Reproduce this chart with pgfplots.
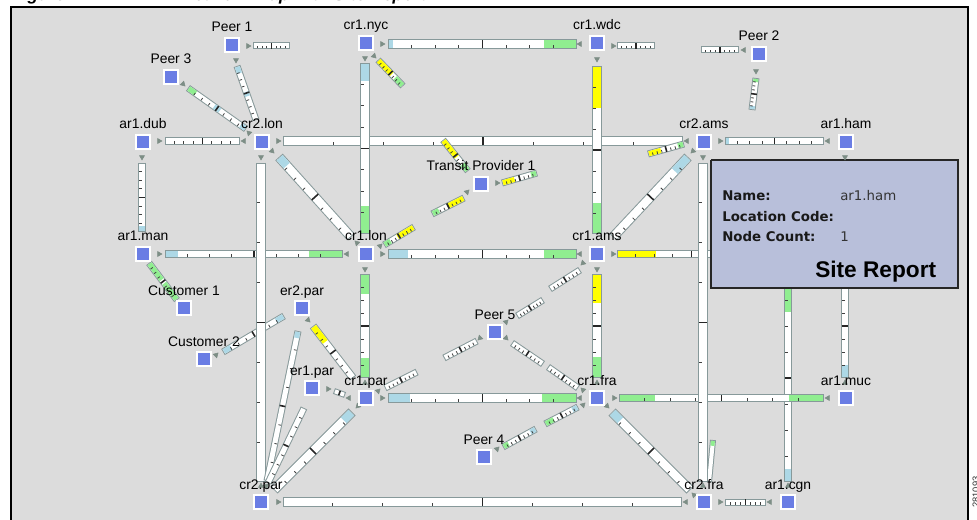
\documentclass[border=0pt]{standalone}
\usepackage{fontspec}
\setmainfont{Liberation Sans}
\newfontfamily\vfont{DejaVu Sans}
\usepackage{pgfplots}
\pgfplotsset{compat=1.18}
\usepackage{pgfplotstable}

\definecolor{bg}{HTML}{DCDCDC}
\definecolor{edgec}{HTML}{87999A}
\definecolor{lblue}{HTML}{ADD8E6}
\definecolor{lgreen}{HTML}{90EE90}
\definecolor{ylw}{HTML}{FFFF00}
\definecolor{nodec}{HTML}{6A7DE4}
\definecolor{boxc}{HTML}{B8BFDA}
\definecolor{arrc}{HTML}{7D8E86}
\definecolor{tickc}{HTML}{404040}

% bar from (x1,y1) to (x2,y2), width in px, tick side +1/-1
\newcommand\link[6]{%
  \pgfmathsetmacro\Lax{#1}\pgfmathsetmacro\Lay{#2}%
  \pgfmathsetmacro\Lln{veclen(#3-#1,#4-#2)}%
  \pgfmathsetmacro\Lux{(#3-#1)/\Lln}\pgfmathsetmacro\Luy{(#4-#2)/\Lln}%
  \pgfmathsetmacro\Lnx{-(#6)*\Luy}\pgfmathsetmacro\Lny{(#6)*\Lux}%
  \pgfmathsetmacro\Lhw{#5/2}%
  \pgfmathsetmacro\Lsx{#1+\Lux}\pgfmathsetmacro\Lsy{#2+\Luy}%
  \pgfmathsetmacro\Lex{#3-\Lux}\pgfmathsetmacro\Ley{#4-\Luy}%
  \addplot[draw=edgec, line width=#5*0.75pt] coordinates {(#1,#2) (#3,#4)};
  \addplot[draw=white, line width=(#5-2)*0.75pt] coordinates {(\Lsx,\Lsy) (\Lex,\Ley)};
}
% coloured part of the last bar, fractions along it
\newcommand\segf[4]{%
  \pgfmathsetmacro\Lpa{\Lsx+#1*(\Lln-2)*\Lux}\pgfmathsetmacro\Lpb{\Lsy+#1*(\Lln-2)*\Luy}%
  \pgfmathsetmacro\Lpc{\Lsx+#2*(\Lln-2)*\Lux}\pgfmathsetmacro\Lpd{\Lsy+#2*(\Lln-2)*\Luy}%
  \addplot[draw=#3, line width=(#4-2)*0.75pt] coordinates {(\Lpa,\Lpb) (\Lpc,\Lpd)};
}
\newcommand\tk[1]{%
  \pgfmathsetmacro\Lpx{\Lax+#1*\Lln*\Lux}\pgfmathsetmacro\Lpy{\Lay+#1*\Lln*\Luy}%
  \pgfmathsetmacro\Lpa{\Lpx+\Lnx*(\Lhw-1)}\pgfmathsetmacro\Lpb{\Lpy+\Lny*(\Lhw-1)}%
  \pgfmathsetmacro\Lpc{\Lpx+\Lnx*(\Lhw-3.8)}\pgfmathsetmacro\Lpd{\Lpy+\Lny*(\Lhw-3.8)}%
  \addplot[draw=tickc, line width=0.6pt] coordinates {(\Lpa,\Lpb) (\Lpc,\Lpd)};
}
\newcommand\ctick{%
  \pgfmathsetmacro\Lpx{\Lax+0.5*\Lln*\Lux}\pgfmathsetmacro\Lpy{\Lay+0.5*\Lln*\Luy}%
  \pgfmathsetmacro\Lpa{\Lpx+\Lnx*(\Lhw-0.6)}\pgfmathsetmacro\Lpb{\Lpy+\Lny*(\Lhw-0.6)}%
  \pgfmathsetmacro\Lpc{\Lpx-\Lnx*(\Lhw-0.6)}\pgfmathsetmacro\Lpd{\Lpy-\Lny*(\Lhw-0.6)}%
  \addplot[draw=black!85, line width=1.2pt] coordinates {(\Lpa,\Lpb) (\Lpc,\Lpd)};
}
\newcommand\ticks{\tk{0.125}\tk{0.25}\tk{0.375}\tk{0.625}\tk{0.75}\tk{0.875}\ctick}

\pgfplotstableread[col sep=comma]{
x,y,label
232,45,Peer 1
366,43,cr1.nyc
597,43,cr1.wdc
759,54,Peer 2
171,77,Peer 3
143,142,ar1.dub
262,142,cr2.lon
704,142,cr2.ams
846,142,ar1.ham
481,184,Transit Provider 1
143,254,ar1.man
366,254,cr1.lon
597,254,cr1.ams
184,308,Customer 1
302,308,er2.par
204,359,Customer 2
495,332,Peer 5
312,388,er1.par
366,398,cr1.par
597,398,cr1.fra
846,398,ar1.muc
484,457,Peer 4
261,502,cr2.par
704,502,cr2.fra
788,502,ar1.cgn
}\sites

\begin{document}
\begin{tikzpicture}
\useasboundingbox (0,0) rectangle (732.75pt,390pt);
\clip (0,0) rectangle (732.75pt,390pt);
\begin{axis}[at={(0,0)}, anchor=south west, scale only axis,
  width=732.75pt, height=390pt, xmin=0, xmax=977, ymin=0, ymax=520,
  y dir=reverse, hide axis, clip=false]

% page and map area
\addplot[fill=white, draw=none] coordinates {(0,0) (977,0) (977,520) (0,520) (0,0)};
\addplot[fill=bg, draw=none] coordinates {(11,7) (968,7) (968,525) (11,525) (11,7)};
\addplot[draw=black, line width=1.4pt] coordinates {(11,525) (11,7) (968,7) (968,525)};

% horizontal links
\link{388}{44}{577}{44}{10}{1}\segf{0}{0.02}{lblue}{10}\segf{0.83}{1}{lgreen}{10}\ticks
\link{283}{141}{683}{141}{10}{1}\ticks
\link{165}{141}{240}{141}{8}{1}\ticks
\link{725}{141}{824}{141}{8}{1}\segf{0}{0.03}{lblue}{8}\ticks
\link{165}{254}{343}{254}{8}{1}\segf{0}{0.07}{lblue}{8}\segf{0.81}{1}{lgreen}{8}\ticks
\link{388}{254}{577}{254}{10}{1}\segf{0}{0.1}{lblue}{10}\segf{0.83}{1}{lgreen}{10}\ticks
\link{617}{254}{766}{254}{8}{1}\segf{0}{0.26}{ylw}{8}\ticks
\link{388}{398}{577}{398}{10}{1}\segf{0}{0.11}{lblue}{10}\segf{0.82}{1}{lgreen}{10}\ticks
\link{283}{502}{682}{502}{10}{1}\ticks
\link{725}{502}{766}{502}{7}{1}\ticks
\link{253}{46}{290}{46}{7}{1}\ticks
\link{617}{46}{655}{46}{7}{1}\ticks
\link{701}{50}{739}{50}{7}{1}\ticks
% customer 2 to er2.par (under the cr2.lon bar)
\link{223}{352}{284}{316}{7}{1}\segf{0}{0.12}{lblue}{7}\segf{0.88}{1}{lblue}{7}\ticks

% vertical links
\link{365}{63}{365}{234}{10}{1}\segf{0}{0.1}{lblue}{10}\segf{0.84}{1}{lgreen}{10}\ticks
\link{597}{66}{597}{234}{10}{1}\segf{0}{0.25}{ylw}{10}\segf{0.82}{1}{lgreen}{10}\ticks
\link{142}{163}{142}{232}{8}{1}\segf{0.93}{1}{lblue}{8}\ticks
\link{261}{163}{261}{482}{10}{1}\ticks
\link{845}{274}{845}{378}{8}{1}\segf{0.88}{1}{lblue}{8}\ticks
\link{788}{274}{788}{482}{8}{1}\segf{0}{0.18}{lgreen}{8}\segf{0.94}{1}{lblue}{8}\ticks
\link{365}{274}{365}{378}{10}{1}\segf{0}{0.19}{lgreen}{10}\segf{0.81}{1}{lgreen}{10}\ticks
\link{597}{274}{597}{378}{10}{1}\segf{0}{0.27}{ylw}{10}\segf{0.8}{1}{lgreen}{10}\ticks
\link{619}{398}{824}{398}{8}{1}\segf{0}{0.17}{lgreen}{8}\segf{0.83}{1}{lgreen}{8}\ticks
\link{713}{440}{709}{482}{6}{1}\segf{0}{0.12}{lgreen}{6}
\link{703}{163}{703}{482}{10}{1}\ticks

% diagonal links and stubs
\link{279}{157}{351}{237}{10}{1}\segf{0}{0.1}{lblue}{10}\ticks
\link{688}{157}{613}{237}{10}{-1}\segf{0}{0.17}{lblue}{10}\ticks
\link{612}{412}{690}{490}{10}{1}\segf{0}{0.1}{lblue}{10}\ticks
\link{352}{412}{274}{490}{10}{-1}\segf{0}{0.1}{lblue}{10}\ticks
\link{298}{331}{267}{481}{7}{-1}\segf{0}{0.04}{lblue}{7}\ticks
\link{304}{408}{268}{483}{7}{-1}\ticks
\link{313}{326}{353}{378}{8}{1}\segf{0}{0.3}{ylw}{8}\ticks
\link{149}{263}{177}{300}{7}{1}\segf{0}{0.45}{lgreen}{7}\segf{0.55}{1}{lgreen}{7}\ticks
\link{188}{88}{246}{129}{7}{1}\segf{0}{0.12}{lgreen}{7}\segf{0.45}{0.55}{lblue}{7}\segf{0.92}{1}{lblue}{7}\ticks
\link{237}{66}{256}{120}{7}{1}\segf{0}{0.12}{lblue}{7}\segf{0.48}{0.56}{lblue}{7}\ticks
\link{378}{60}{403}{86}{7}{1}\segf{0}{0.55}{ylw}{7}\segf{0.7}{1}{lgreen}{7}\ticks
\link{443}{140}{468}{171}{7}{1}\segf{0}{0.55}{ylw}{7}\segf{0.8}{1}{lgreen}{7}\ticks
\link{502}{183}{537}{173}{7}{1}\segf{0}{0.35}{ylw}{7}\segf{0.85}{1}{lgreen}{7}\ticks
\link{432}{214}{464}{198}{7}{1}\segf{0}{0.2}{lgreen}{7}\segf{0.5}{1}{ylw}{7}\ticks
\link{384}{245}{414}{227}{7}{1}\segf{0}{0.2}{lgreen}{7}\segf{0.45}{1}{ylw}{7}\ticks
\link{648}{154}{684}{144}{7}{1}\segf{0}{0.35}{ylw}{7}\segf{0.85}{1}{lgreen}{7}\ticks
\link{517}{316}{543}{300}{7}{1}\ticks
\link{550}{289}{580}{270}{7}{1}\ticks
\link{444}{358}{477}{341}{7}{1}\ticks
\link{512}{343}{543}{364}{7}{1}\ticks
\link{548}{367}{578}{388}{7}{1}\ticks
\link{503}{447}{536}{429}{7}{1}\segf{0}{0.15}{lgreen}{7}\segf{0.85}{1}{lblue}{7}\ticks
\link{545}{424}{578}{407}{7}{1}\segf{0}{0.25}{lgreen}{7}\segf{0.85}{1}{lblue}{7}\ticks
\link{385}{388}{417}{372}{7}{1}\ticks
\link{334}{391}{345}{395}{6}{1}\ctick
\link{756}{78}{752}{110}{7}{1}\segf{0}{0.1}{lgreen}{7}\segf{0.9}{1}{lblue}{7}\ticks

% direction arrows
\addplot[only marks, mark=triangle*, mark size=2.2pt, color=arrc, mark options={rotate=-90}] coordinates {
 (382,44) (248,46) (613,46) (159,141) (278,141) (720,141) (159,254) (382,254)
 (613,254) (382,398) (614,398) (278,502) (720,502) (328,389) (497,183)};
\addplot[only marks, mark=triangle*, mark size=2.2pt, color=arrc, mark options={rotate=90}] coordinates {
 (580,44) (244,141) (687,141) (828,141) (347,254) (580,254) (580,398) (828,398)
 (686,502) (770,502) (744,50) (349,398)};
\addplot[only marks, mark=triangle*, mark size=2.2pt, color=arrc, mark options={rotate=180}] coordinates {
 (365,58) (597,59) (142,157) (261,157) (703,157) (845,157) (365,269) (597,269) (756,71) (236,60)};
\addplot[only marks, mark=triangle*, mark size=2.2pt, color=arrc] coordinates {
 (365,383) (597,383) (261,486) (703,486) (788,486) (845,383)};
\addplot[only marks, mark=triangle*, mark size=2.2pt, color=arrc, mark options={rotate=-135}] coordinates {
 (183,84) (374,56) (272,151) (607,406) (506,338) (308,320)};
\addplot[only marks, mark=triangle*, mark size=2.2pt, color=arrc, mark options={rotate=45}] coordinates {
 (357,243) (694,495) (249,133) (583,390)};
\addplot[only marks, mark=triangle*, mark size=2.2pt, color=arrc, mark options={rotate=135}] coordinates {
 (693,151) (358,406) (583,263) (480,338)};
\addplot[only marks, mark=triangle*, mark size=2.2pt, color=arrc, mark options={rotate=-45}] coordinates {
 (216,355) (497,449) (378,391) (266,486) (380,246) (506,322) (583,405) (467,192)};

% sites
\addplot[only marks, mark=square*, mark size=5.6pt,
  mark options={fill=nodec, draw=white, line width=1.5pt},
  nodes near coords, point meta=explicit symbolic,
  every node near coord/.style={anchor=base, yshift=9.75pt, inner sep=0pt,
    font=\fontsize{10.4}{12}\selectfont, text=black}]
  table[x=x, y=y, meta=label] {\sites};

% site report box
\addplot[fill=boxc, draw=black!85, line width=1.2pt] coordinates {(711,160) (958,160) (958,288) (711,288) (711,160)};
\node[anchor=base west, inner sep=0pt, font=\vfont\bfseries\fontsize{10}{12}\selectfont, text=black!90] at (axis cs:722,201) {Name:};
\node[anchor=base west, inner sep=0pt, font=\vfont\fontsize{10}{12}\selectfont, text=black!80] at (axis cs:840,201) {ar1.ham};
\node[anchor=base west, inner sep=0pt, font=\vfont\bfseries\fontsize{10}{12}\selectfont, text=black!90] at (axis cs:722,221.5) {Location Code:};
\node[anchor=base west, inner sep=0pt, font=\vfont\bfseries\fontsize{10}{12}\selectfont, text=black!90] at (axis cs:722,241.5) {Node Count:};
\node[anchor=base west, inner sep=0pt, font=\vfont\fontsize{10}{12}\selectfont, text=black!80] at (axis cs:840,241.5) {1};
\node[anchor=base west, inner sep=0pt, font=\bfseries\fontsize{17}{20}\selectfont] at (axis cs:815,277) {Site Report};

% figure caption and number, cut by the page edge as in the scan
\node[anchor=base west, inner sep=0pt, font=\bfseries\itshape\fontsize{13}{15}\selectfont] at (axis cs:12,0.5) {Figure 4-7\hspace{5em}Network Map with Site Report};
\node[rotate=90, inner sep=0pt, font=\fontsize{7}{8}\selectfont, text=black!80] at (axis cs:976,492) {281093};
\end{axis}
\end{tikzpicture}
\end{document}
